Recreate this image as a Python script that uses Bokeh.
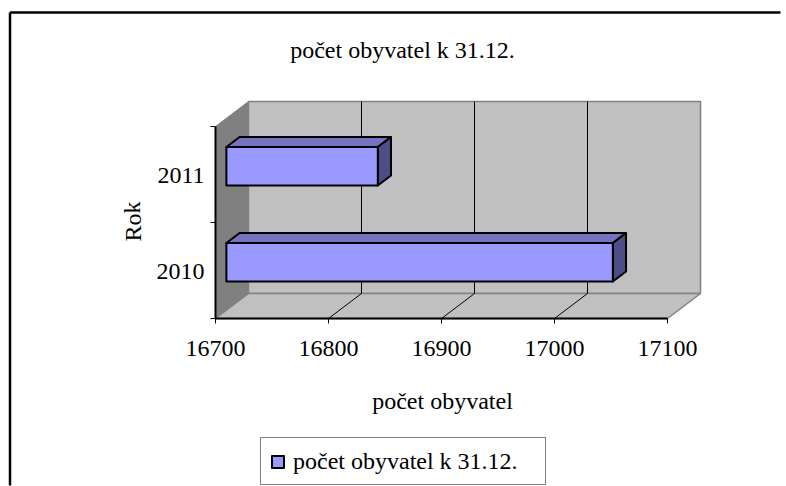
from bokeh.plotting import figure
from bokeh.models import Range1d, Legend, LegendItem
from bokeh.core.properties import value
from bokeh.embed import file_html
from bokeh.resources import INLINE

# ---------------- data ----------------
years = ["2010", "2011"]
population = [17042, 16834]
x_ticks = [16700, 16800, 16900, 17000, 17100]
chart_title = "počet obyvatel k 31.12."
x_title = "počet obyvatel"
y_title = "Rok"
series_name = "počet obyvatel k 31.12."

# ---------------- layout (page pixels) ----------------
W, H = 786, 486
X0_PX, Y0_PX = 215, 318      # page position of the front-plane origin
SX, SY = 1.13, 96.0          # px per value unit / per category
DEPTH_DX, DEPTH_DY = 33, 25  # 3D depth offset in px
TXT_SHIFT = 8                # svg text baseline correction (px)
FONT = "Liberation Serif"
FS = "24px"

x_min, x_max = x_ticks[0], x_ticks[-1]
n = len(years)


def px2x(px):
    return x_min + (px - X0_PX) / SX


def py2y(py):
    return (Y0_PX - py) / SY


DXU = DEPTH_DX / SX
DYU = DEPTH_DY / SY

p = figure(width=W, height=H, output_backend="svg", toolbar_location=None,
           x_range=Range1d(px2x(0), px2x(W)), y_range=Range1d(py2y(H), py2y(0)),
           min_border=0)
p.axis.visible = False
p.grid.visible = False
p.outline_line_color = None
p.background_fill_color = "white"
p.border_fill_color = "white"

# chart area border (left and top edges visible)
p.segment(x0=[px2x(9.5), px2x(9.5)], y0=[py2y(H - 1), py2y(12)],
          x1=[px2x(9.5), px2x(W - 6)], y1=[py2y(12), py2y(12)],
          line_color="black", line_width=2.5)

# walls and floor
p.patch([x_min + DXU, x_max + DXU, x_max + DXU, x_min + DXU],
        [DYU, DYU, n + DYU, n + DYU],
        fill_color="#C0C0C0", line_color="#808080", line_width=1.5)
p.patch([x_min, x_min + DXU, x_min + DXU, x_min],
        [0, DYU, n + DYU, n],
        fill_color="#808080", line_color="#808080", line_width=1)
p.patch([x_min, x_max, x_max + DXU, x_min + DXU],
        [0, 0, DYU, DYU],
        fill_color="#C0C0C0", line_color="#808080", line_width=1.5)

inner = x_ticks[1:-1]
p.segment(x0=[t + DXU for t in inner], y0=[DYU] * len(inner),
          x1=[t + DXU for t in inner], y1=[n + DYU] * len(inner),
          line_color="black", line_width=1)
p.segment(x0=inner, y0=[0] * len(inner),
          x1=[t + DXU for t in inner], y1=[DYU] * len(inner),
          line_color="black", line_width=1)

# axis lines and ticks
p.segment(x0=[x_min, x_min], y0=[0, 0], x1=[x_max, x_min], y1=[0, n],
          line_color="black", line_width=2)
p.segment(x0=x_ticks, y0=[0] * len(x_ticks), x1=x_ticks,
          y1=[-5 / SY] * len(x_ticks), line_color="black", line_width=1)
bounds = list(range(n + 1))
p.segment(x0=[x_min] * len(bounds), y0=bounds, x1=[x_min - 5 / SX] * len(bounds),
          y1=bounds, line_color="black", line_width=1)

# tick labels
p.text(x=x_ticks, y=[(-38 + TXT_SHIFT) / SY] * len(x_ticks),
       text=[str(t) for t in x_ticks],
       text_align="center", text_baseline="alphabetic",
       text_font=value(FONT), text_font_size=value(FS), text_color="black")
centers = [i + 0.5 for i in range(n)]
p.text(x=[x_min - 11 / SX] * n, y=[c + (TXT_SHIFT - 9) / SY for c in centers],
       text=years, text_align="right", text_baseline="alphabetic",
       text_font=value(FONT), text_font_size=value(FS), text_color="black")

# bars
F1, F2 = 0.33, 0.73
HALF = 0.2
d1x, d1y = DXU * F1, DYU * F1
d2x, d2y = DXU * F2, DYU * F2
front_xs, front_ys, top_xs, top_ys, side_xs, side_ys = [], [], [], [], [], []
for c, v in zip(centers, population):
    lo, hi = c - HALF, c + HALF
    front_xs.append([x_min + d1x, v + d1x, v + d1x, x_min + d1x])
    front_ys.append([lo + d1y, lo + d1y, hi + d1y, hi + d1y])
    top_xs.append([x_min + d1x, v + d1x, v + d2x, x_min + d2x])
    top_ys.append([hi + d1y, hi + d1y, hi + d2y, hi + d2y])
    side_xs.append([v + d1x, v + d2x, v + d2x, v + d1x])
    side_ys.append([lo + d1y, lo + d2y, hi + d2y, hi + d1y])

p.patches(top_xs, top_ys, fill_color="#7373C0", line_color="black", line_width=2,
          line_join="round")
p.patches(side_xs, side_ys, fill_color="#4E4E86", line_color="black", line_width=2,
          line_join="round")
front = p.patches(front_xs, front_ys, fill_color="#9999FF", line_color="black",
                  line_width=2, line_join="round")

# titles
p.text(x=[px2x(402)], y=[py2y(57 - TXT_SHIFT)], text=[chart_title], text_align="center",
       text_baseline="alphabetic", text_font=value(FONT), text_font_size=value(FS),
       text_color="black")
p.text(x=[px2x(442)], y=[py2y(408 - TXT_SHIFT)], text=[x_title], text_align="center",
       text_baseline="alphabetic", text_font=value(FONT), text_font_size=value(FS),
       text_color="black")
p.text(x=[px2x(140 - TXT_SHIFT)], y=[py2y(221)], text=[y_title], text_align="center",
       text_baseline="alphabetic", angle=1.5708, text_font=value(FONT),
       text_font_size=value(FS), text_color="black")

# legend
legend = Legend(items=[LegendItem(label=series_name, renderers=[front])],
                location=(260, 1), margin=0,
                label_text_font=FONT, label_text_font_size=FS,
                label_text_color="black",
                glyph_width=15, glyph_height=15, label_standoff=8,
                label_height=28, label_width=243, padding=9,
                border_line_color="black", border_line_width=1,
                background_fill_color="white", background_fill_alpha=1)
p.add_layout(legend)

open("out.html", "w").write(file_html(p, INLINE))
